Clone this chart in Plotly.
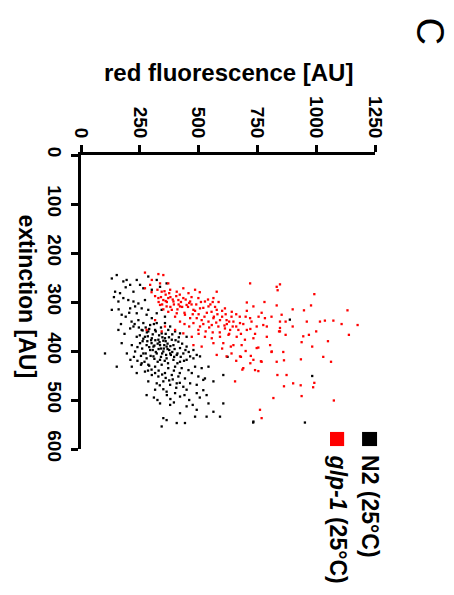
import plotly.graph_objects as go

# (red fluorescence [AU], extinction [AU])
n2_points = [
    (152,245),(131,252),(180,258),(194,255),(145,279),(166,282),(209,265),(237,255),(251,265),(265,272),
    (223,279),(180,292),(201,296),(159,299),(223,299),(244,303),(272,296),(230,309),(209,313),(258,313),
    (286,316),(131,316),(173,326),(237,323),(279,326),(301,333),(322,323),(343,316),(357,330),(244,337),
    (265,343),(223,350),(294,347),(322,343),(357,343),(379,350),(159,357),(209,354),(258,357),(286,360),
    (315,357),(343,364),(371,357),(400,360),(421,364),(449,371),(237,371),(272,371),(301,374),(329,377),
    (357,374),(386,377),(414,381),(173,384),(216,388),(251,384),(279,388),(308,391),(336,388),(364,391),
    (393,388),(421,394),(449,391),(478,398),(230,401),(265,405),(294,398),(322,405),(350,401),(379,405),
    (407,408),(435,405),(464,411),(492,408),(102,405),(279,415),(308,411),(336,418),(364,415),(393,418),
    (421,422),(449,418),(478,415),(506,411),(152,432),(216,432),(258,425),(286,428),(315,432),(343,428),
    (371,435),(400,432),(428,435),(457,439),(485,432),(513,435),(542,432),(237,445),(272,442),(301,449),
    (329,452),(357,445),(386,449),(414,452),(442,456),(471,445),(499,452),(527,456),(286,462),(322,466),
    (350,462),(379,469),(407,466),(435,473),(464,466),(492,469),(520,459),(563,462),(605,449),(315,479),
    (364,483),(400,486),(421,493),(449,479),(492,486),(534,490),(279,490),(336,507),(379,510),(421,527),
    (449,513),(492,520),(542,507),(563,524),(605,507),(350,537),(364,541),(407,547),(442,547),(485,534),
    (534,534),(591,534),(343,554),(733,544),(286,248),(322,255),(364,262),(301,275),(336,269),
    (623,412),(983,451),(952,546),(732,546),(888,336),
    (290,392),(305,398),(318,402),(330,396),(345,405),(352,395),(362,408),(375,398),(388,402),(296,410),
    (312,416),(326,422),(340,412),(356,420),(370,425),(282,380),(300,384),(316,378),(334,382),(350,379),
    (368,385),(380,390),(260,395),(275,405),(398,396),(410,425),(290,430),(255,410),(240,392),(360,365),
    (340,352),(310,345),(280,362),(262,380),(395,440),(420,445),(330,440),
    (215,340),(228,345),(246,352),(262,358),(275,352),(290,355),(305,366),(318,360),(332,368),(346,372),
    (360,380),(374,372),(388,366),(402,378),(416,372),(430,385),(444,398),(458,402),(250,368),(265,375),
    (284,370),(298,378),(312,389),(326,385),(340,395),(354,388),(368,396),(382,408),(396,412),(410,405),
    (424,412),(438,420),(225,412),(240,420),(255,428),(270,422),(285,440),(300,438),(315,445),(345,448),
    (360,455),(375,460),(390,458),(405,475),(420,465),(335,470),(350,478),(365,490),(380,498),(395,505),
    (310,495),(325,500),(440,490),(460,500),(475,510),(505,495),(520,480),(190,330),(205,322),(185,365),
    (195,405),(210,418),(170,345),(160,315),(140,290),(190,270),
]

glp1_points = [
    (272,240),(329,243),(350,245),(301,255),(336,262),(371,262),(272,272),(294,265),(343,279),(379,275),
    (407,279),(435,272),(457,282),(485,275),(577,279),(329,292),(350,296),(371,292),(393,299),(414,296),
    (435,292),(464,299),(499,292),(527,299),(563,292),(336,306),(364,309),(386,316),(421,309),(449,306),
    (478,316),(506,313),(542,309),(577,316),(612,313),(641,320),(705,301),(733,309),(768,322),(371,320),
    (407,323),(442,326),(464,333),(492,333),(513,337),(542,340),(563,333),(591,337),(619,337),(648,340),
    (676,343),(719,333),(782,333),(421,340),(478,343),(506,350),(556,347),(584,350),(612,354),(634,357),
    (669,357),(705,357),(747,350),(775,347),(846,340),(832,269),(719,262),(400,357),(435,364),(471,371),
    (499,357),(527,371),(556,374),(591,371),(627,367),(662,371),(697,377),(733,374),(790,371),(846,360),
    (478,388),(513,391),(563,384),(605,384),(648,388),(683,388),(747,394),(804,388),(811,401),(577,408),
    (619,411),(676,411),(733,418),(768,422),(690,435),(740,439),(655,462),(818,496),(761,520),(768,537),
    (357,350),(315,337),(343,360),(279,357),
    (330,300),(345,305),(360,298),(380,310),(395,305),(410,315),(425,300),(440,322),(455,310),(470,305),
    (485,318),(500,325),(520,312),(535,322),(550,305),(565,330),(580,325),(600,330),(620,345),(640,330),
    (660,350),(520,345),(545,352),(590,362),(610,348),(460,350),(440,345),(380,290),(360,285),(420,285),
    (470,290),(505,280),(400,330),(350,315),(560,300),(575,342),(630,365),(680,365),(700,330),(725,340),
    (846,264),(836,276),(992,284),(832,307),(900,315),(978,307),(948,317),(1133,317),(853,326),(1016,340),
    (1037,338),(1073,338),(1108,345),(1176,347),(846,353),(842,360),(870,367),(945,370),(969,367),(1139,367),
    (938,382),(860,402),(983,391),(863,419),(935,417),(1030,412),(1063,422),(874,449),(902,466),(934,470),
    (992,465),(987,474),(863,472),(938,492),(1075,501),
    (835,449),(832,422),(810,402),(754,441),(686,438),(680,412),(722,410),(765,421),(754,393),(637,391),
    (300,280),(315,288),(325,275),(340,290),(355,278),(365,300),(375,282),(390,295),(405,288),(415,305),
    (430,310),(445,295),(460,302),(475,325),(490,305),(510,300),(525,330),(540,295),(555,320),(570,310),
    (585,300),(600,318),(615,325),(630,340),(645,350),(660,325),(675,330),(690,345),(705,318),(720,355),
    (740,365),(755,330),(790,350),(810,330),(500,365),(530,360),(560,362),(600,395),(640,405),(700,400),
    (720,425),(660,420),(780,300),(870,340),(900,350),(960,340),(1000,360),(1050,380),
]

x_ticks = [0, 250, 500, 750, 1000, 1250]
y_ticks = [0, 100, 200, 300, 400, 500, 600]
series_names = ["N2 (25°C)", "<i>glp-1</i> (25°C)"]
series_colors = ["#000000", "#ff0000"]

FONT = "Liberation Sans, Arial, sans-serif"

fig = go.Figure()
for pts, name, col in [(n2_points, series_names[0], series_colors[0]),
                       (glp1_points, series_names[1], series_colors[1])]:
    fig.add_trace(go.Scatter(
        x=[p[0] for p in pts], y=[p[1] for p in pts], mode="markers", name=name,
        marker=dict(symbol="square", size=2.3, color=col, line=dict(width=0)),
        showlegend=False, cliponaxis=False,
    ))

axis_common = dict(showline=True, linewidth=3, linecolor="black", ticks="outside",
                   tickwidth=3, ticklen=7, tickcolor="black", showgrid=False, zeroline=False,
                   tickfont=dict(family=FONT, size=19, color="black", weight="bold"),
                   tickangle=90)

# page body adds an 8px offset, so the figure is 8px smaller and margins shifted
fig.update_layout(
    width=446, height=579,
    margin=dict(l=73, r=79, t=147, b=138),
    paper_bgcolor="white", plot_bgcolor="white",
    xaxis=dict(range=[0, 1250], side="top", tickvals=x_ticks, **axis_common),
    yaxis=dict(range=[600, 0], tickvals=y_ticks, **axis_common),
)

# axis titles
fig.add_annotation(text="<b>red fluorescence [AU]</b>", xref="paper", yref="paper",
                   x=0.5, y=1.282, showarrow=False, xanchor="center", yanchor="middle",
                   font=dict(family=FONT, size=24, color="black"))
fig.add_annotation(text="<b>extinction [AU]</b>", xref="paper", yref="paper",
                   x=-0.185, y=0.52, showarrow=False, textangle=90,
                   xanchor="center", yanchor="middle",
                   font=dict(family=FONT, size=23, color="black"))
# panel letter (rotated like the rest of the panel)
fig.add_annotation(text="<span>C</span>", xref="paper", yref="paper", x=1.19, y=1.42,
                   showarrow=False, textangle=90.5, xanchor="center", yanchor="middle",
                   font=dict(family="Liberation Sans", size=38, color="black", weight="normal"))

# legend (rotated, drawn as shapes + text)
leg = [(0.956, 1.007, 0.983, -0.194, series_names[0], series_colors[0]),
       (0.847, 0.895, 0.874, -0.24, series_names[1], series_colors[1])]
for x0, x1, xt, yt, name, col in leg:
    fig.add_shape(type="rect", xref="paper", yref="paper", x0=x0, x1=x1, y0=0.010, y1=0.058,
                  fillcolor=col, line=dict(width=0))
    fig.add_annotation(text="<b>" + name + "</b>", xref="paper", yref="paper", x=xt, y=yt,
                       showarrow=False, textangle=90, xanchor="center", yanchor="middle",
                       font=dict(family=FONT, size=23, color="black"))

fig.write_html("out.html")
